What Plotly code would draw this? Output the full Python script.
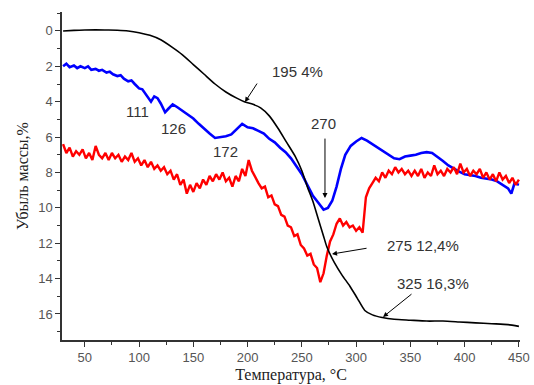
import plotly.graph_objects as go

# ---- data ----
black_x = [30, 40, 50, 60, 70, 80, 90, 100, 110, 120, 130, 140, 150, 160, 170, 180, 190, 197,
           205, 212, 220, 228, 236, 244, 250, 255, 260, 265, 270, 273, 280, 287, 294, 301, 308,
           315, 324, 335, 350, 365, 380, 395, 410, 425, 440, 450]
black_y = [0.0, -0.03, -0.05, -0.06, -0.05, -0.04, 0.0, 0.1, 0.25, 0.5, 0.9, 1.35, 1.9, 2.45, 3.0,
           3.45, 3.8, 4.0, 4.15, 4.35, 4.8, 5.5, 6.3, 7.1, 7.9, 8.8, 9.6, 10.6, 11.6, 12.2, 13.1,
           13.8, 14.4, 15.1, 15.8, 16.05, 16.2, 16.3, 16.35, 16.4, 16.4, 16.45, 16.5, 16.55, 16.6, 16.7]

blue_x = [30, 33, 36, 40, 43, 46, 50, 53, 56, 60, 63, 66, 70, 73, 76, 80, 83, 86, 90, 93, 96, 100,
          103, 106, 108, 111, 114, 117, 120, 124, 127, 131, 135, 140, 145, 150, 155, 160, 165, 170,
          175, 180, 185, 190, 195, 200, 205, 210, 215, 220, 225, 230, 235, 240, 245, 250, 255, 260,
          265, 270, 274, 278, 282, 286, 290, 295, 300, 305, 310, 315, 320, 325, 330, 335, 340, 345,
          350, 355, 360, 365, 370, 375, 380, 385, 390, 395, 400, 405, 410, 415, 420, 425, 430, 435,
          440, 443, 446, 450]
blue_y = [2.0, 1.85, 2.05, 1.95, 2.1, 2.0, 2.1, 2.0, 2.2, 2.15, 2.25, 2.2, 2.35, 2.3, 2.45, 2.55,
          2.5, 2.7, 2.85, 2.8, 3.0, 3.25, 3.3, 3.55, 3.7, 4.0, 3.7, 3.8, 4.1, 4.6, 4.4, 4.15, 4.3,
          4.5, 4.7, 4.95, 5.25, 5.55, 5.8, 6.05, 6.0, 5.95, 5.85, 5.55, 5.25, 5.45, 5.5, 5.65, 5.8,
          6.1, 6.3, 6.6, 6.85, 7.2, 7.65, 8.1, 8.7, 9.3, 9.7, 10.1, 10.0, 9.6, 8.8, 7.8, 7.0, 6.5,
          6.25, 6.05, 6.2, 6.4, 6.6, 6.8, 7.0, 7.2, 7.25, 7.1, 7.05, 7.0, 6.9, 6.85, 6.9, 7.1, 7.35,
          7.6, 7.8, 7.95, 8.1, 8.15, 8.2, 8.3, 8.35, 8.4, 8.5, 8.7, 8.9, 9.2, 8.6, 8.7]

red_x = list(range(30, 451, 3))
red_y = [6.4, 6.9, 6.6, 7.1, 6.8, 7.0, 6.7, 7.2, 6.9, 7.3, 6.5, 7.0, 7.2, 6.9, 7.3, 6.9, 7.2, 7.0,
         7.4, 7.1, 7.3, 6.9, 7.4, 7.2, 7.6, 7.3, 7.7, 7.4, 7.8, 7.6, 7.9, 7.7, 8.1, 7.9, 8.4, 8.1,
         8.7, 8.4, 9.2, 8.7, 9.1, 8.6, 8.9, 8.4, 8.7, 8.2, 8.5, 8.1, 8.4, 8.0, 8.5, 8.3, 8.8, 8.2,
         8.5, 7.8, 8.2, 7.3, 7.9, 8.3, 8.6, 8.9, 8.8, 9.4, 9.3, 9.8, 9.9, 10.4, 10.5, 11.0, 11.1,
         11.6, 11.5, 12.1, 12.3, 12.7, 12.6, 13.2, 13.4, 14.2, 13.7, 12.7, 11.9, 11.5, 10.9, 10.6,
         11.0, 10.8, 11.1, 11.0, 11.3, 11.1, 11.4, 9.4, 8.9, 8.6, 8.3, 8.5, 8.0, 8.3, 7.9, 8.1,
         7.7, 8.0, 7.8, 8.1, 7.9, 8.2, 7.9, 8.2, 7.8, 8.3, 8.0, 8.2, 7.6, 8.1, 7.9, 8.2, 7.8, 8.0,
         7.7, 8.1, 7.5, 8.0, 7.8, 8.2, 7.9, 8.1, 7.8, 8.3, 8.0, 8.4, 8.1, 8.5, 8.0, 8.4, 8.2, 8.6,
         8.3, 8.7, 8.4]

# labels: (text, x, y)
plain_labels = [("111", 99, 4.58), ("126", 131.3, 5.49), ("172", 179.2, 6.84)]
# labelled arrows: (text, text_x, text_y, tip_x, tip_y, tail_x, tail_y)
arrow_labels = [
    ("195 4%", 246.4, 2.32, 197.6, 4.02, 209.6, 2.89),
    ("270", 270.4, 5.26, 271.3, 9.44, 271.3, 6.0),
    ("275 12,4%", 361.6, 12.1, 277.8, 12.61, 311.0, 12.27),
    ("325 16,3%", 370.8, 14.25, 324.8, 16.17, 352.4, 14.81),
]

x_ticks = [50, 100, 150, 200, 250, 300, 350, 400, 450]
y_ticks = [0, 2, 4, 6, 8, 10, 12, 14, 16]

fig = go.Figure()
fig.add_trace(go.Scatter(x=blue_x, y=blue_y, mode="lines",
                         line=dict(color="#0000ff", width=2.6), showlegend=False))
fig.add_trace(go.Scatter(x=red_x, y=red_y, mode="lines",
                         line=dict(color="#ff0000", width=2.4), showlegend=False))
fig.add_trace(go.Scatter(x=black_x, y=black_y, mode="lines",
                         line=dict(color="#000000", width=1.6, shape="spline", smoothing=0.6),
                         showlegend=False))

lab_font = dict(family="Liberation Sans, Arial", size=15, color="#333333")
anns = []
for t, x, y in plain_labels:
    anns.append(dict(text=t, x=x, y=y, xref="x", yref="y", showarrow=False, font=lab_font))
for t, tx, ty, hx, hy, ax, ay in arrow_labels:
    anns.append(dict(text=t, x=tx, y=ty, xref="x", yref="y", showarrow=False, font=lab_font))
    anns.append(dict(text="", x=hx, y=hy, xref="x", yref="y", ax=ax, ay=ay,
                     axref="x", ayref="y", showarrow=True, arrowhead=2, arrowsize=1,
                     arrowwidth=1, arrowcolor="#000000"))

tick_font = dict(family="Liberation Sans, Arial", size=13, color="#555555")
fig.update_layout(
    width=534, height=385,
    margin=dict(l=62, r=14, t=12, b=45),
    paper_bgcolor="white", plot_bgcolor="white",
    annotations=anns,
    xaxis=dict(range=[29, 451], tickvals=x_ticks, ticks="outside", ticklen=5, tickwidth=1.2,
               tickcolor="#333", showline=True, linecolor="#333", linewidth=1.5,
               showgrid=False, zeroline=False, tickfont=tick_font, automargin=False,
               minor=dict(dtick=25, tick0=25, ticks="outside", ticklen=3, tickcolor="#333"),
               title=dict(text="Температура, °С", standoff=4,
                          font=dict(family="Liberation Serif, Times New Roman", size=16, color="#222"))),
    yaxis=dict(range=[17.47, -1.07], tickvals=y_ticks, ticks="outside", ticklen=5, tickwidth=1.2,
               tickcolor="#333", showline=True, linecolor="#333", linewidth=1.5,
               showgrid=False, zeroline=False, tickfont=tick_font, automargin=False,
               minor=dict(dtick=1, tick0=1, ticks="outside", ticklen=3, tickcolor="#333"),
               title=dict(text="Убыль массы,%", standoff=6,
                          font=dict(family="Liberation Serif, Times New Roman", size=16, color="#222"))),
)

fig.write_html("out.html", config={"displayModeBar": False},
               post_script="document.body.style.margin='0';")
